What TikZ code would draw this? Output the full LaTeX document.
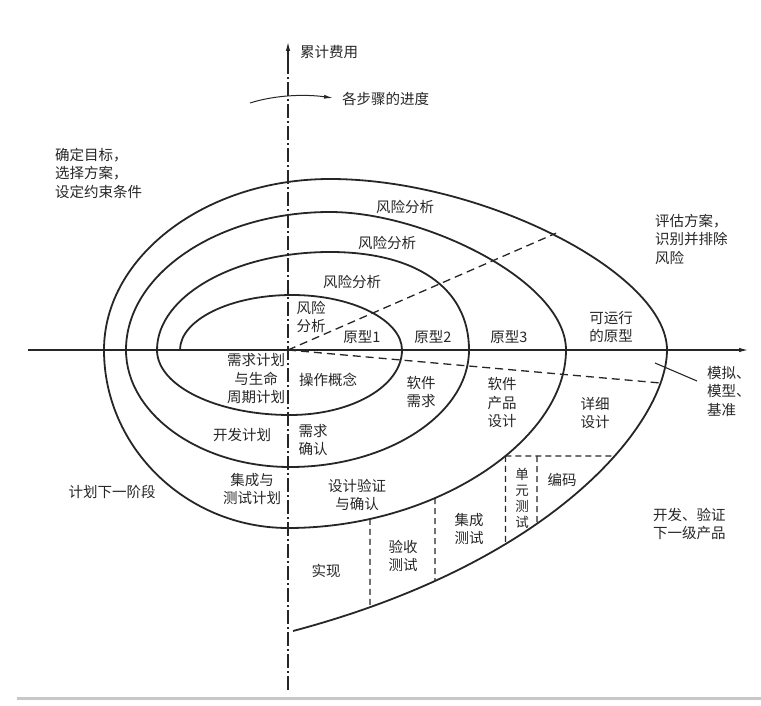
\documentclass[tikz,border=0pt]{standalone}
\usepackage{fontspec}
\newfontfamily\cjk{Noto Sans CJK SC}
\usetikzlibrary{arrows.meta,intersections}
\begin{document}
\begin{tikzpicture}[x=1pt,y=-1pt,
  lbl/.style={font=\cjk\fontsize{14.5}{18.5}\selectfont, text=black!85, inner sep=0pt, align=center},
  lbll/.style={lbl, align=left},
  spiral/.style={line width=1.8pt, black!85},
  axis/.style={line width=1.1pt, black!85},
  dashline/.style={line width=1.3pt, black!85, dash pattern=on 8pt off 5pt},
  sdash/.style={line width=1.2pt, black!85, dash pattern=on 6pt off 4pt},
  tip/.style={-{Latex[length=9pt,width=4.5pt]}}
]
\useasboundingbox (0,0) rectangle (761,706);
\fill[black!22] (17,696.5) rectangle (761,699.5);

% key points of the spiral
\coordinate (O) at (288,350);
\coordinate (L1) at (180,350); \coordinate (T1) at (292,295);
\coordinate (R1) at (402,350); \coordinate (B1) at (290,415);
\coordinate (L2) at (157,350); \coordinate (T2) at (330,252);
\coordinate (R2) at (469,350); \coordinate (B2) at (290,467);
\coordinate (L3) at (126,350); \coordinate (T3) at (330,212);
\coordinate (R3) at (566,350); \coordinate (B3) at (288,528);
\coordinate (L4) at (104,350); \coordinate (T4) at (330,179);
\coordinate (R4) at (667,350); \coordinate (E)  at (293,631);

% axes
\draw[axis,tip] (28,350) -- (748,350);
\draw[axis, dash pattern=on 14pt off 3pt on 2pt off 3pt] (288,690) -- (288,60);
\draw[axis,tip] (288,62) -- (288,42);
\draw[line width=1pt, black!85, -{Latex[length=9pt,width=4pt]}] (250,103) .. controls (275,95) and (305,94) .. (333,98);

% spiral
\draw[spiral] (L1) .. controls (180,320) and (230,295) .. (T1)
 .. controls (352,295) and (402,320) .. (R1)
 .. controls (402,386) and (352,415) .. (B1)
 .. controls (217,415) and (157,386) .. (L2)
 .. controls (157,296) and (235,252) .. (T2)
 .. controls (413,252) and (469,286) .. (R2)
 .. controls (469,414) and (388,467) .. (B2)
 .. controls (200,467) and (126,414) .. (L3)
 .. controls (126,274) and (218,212) .. (T3)
 .. controls (424,212) and (566,281) .. (R3)
 .. controls (566,440) and (436,528) .. (B3)
 .. controls (187,528) and (104,448) .. (L4)
 .. controls (104,256) and (206,179) .. (T4)
 .. controls (482,179) and (667,273) .. (R4)
 .. controls (667,420) and (560,560) .. (E);

\path[name path=s3b] (R3) .. controls (566,440) and (436,528) .. (B3);
\path[name path=s4b] (R4) .. controls (667,420) and (560,560) .. (E);

% radial dashed lines
\coordinate (D1) at (556,233.2);
\coordinate (D2) at (660.5,383);
\draw[dashline] (O) -- (D1);
\draw[dashline] (O) -- (D2);

% pointer
\coordinate (S1) at (655,363);
\coordinate (S2) at (697,381);
\draw[line width=1.1pt, black!85] (S1) -- (S2);

% lower dashed partitions
\path[name path=h1] (470,456) -- (720,456);
\path[name intersections={of=s3b and h1, by=P1}];
\path[name intersections={of=s4b and h1, by=P2}];
\draw[sdash] (P1) -- (P2);
\path[name path=v1] (P1) -- ++(0,150);
\path[name intersections={of=s4b and v1, by=Q1}];
\draw[sdash] (P1) -- (Q1);
\coordinate (P3) at (537,456);
\path[name path=v2] (P3) -- (537,620);
\path[name intersections={of=s4b and v2, by=Q2}];
\draw[sdash] (P3) -- (Q2);
\path[name path=v3] (435,420) -- (435,660);
\path[name intersections={of=s3b and v3, by=P4}];
\path[name intersections={of=s4b and v3, by=Q4}];
\draw[sdash] (P4) -- (Q4);
\path[name path=v4] (370,420) -- (370,680);
\path[name intersections={of=s3b and v4, by=P5}];
\path[name intersections={of=s4b and v4, by=Q5}];
\draw[sdash] (P5) -- (Q5);

% labels
\node[lbl,anchor=west] (cost) at (300,52) {累计费用};
\node[lbl,anchor=west] (prog) at (342,99) {各步骤的进度};
\node[lbll,anchor=west] (q1) at (55,173) {确定目标，\\选择方案，\\设定约束条件};
\node[lbll,anchor=west] (q2) at (655,239) {评估方案，\\识别并排除\\风险};
\node[lbl] (r4) at (405,207) {风险分析};
\node[lbl] (r3) at (387,243) {风险分析};
\node[lbl] (r2) at (352,282) {风险分析};
\node[lbll] (r1) at (311,317) {风险\\分析};
\node[lbl] (p1) at (362,337) {原型1};
\node[lbl] (p2) at (433,337) {原型2};
\node[lbl] (p3) at (509,337) {原型3};
\node[lbl] (p4) at (611,327) {可运行\\的原型};
\node[lbl] (req) at (256,379) {需求计划\\与生命\\周期计划};
\node[lbl] (ops) at (328,380) {操作概念};
\node[lbl] (sreq) at (421,392) {软件\\需求};
\node[lbl] (spd) at (502,403) {软件\\产品\\设计};
\node[lbl] (dd) at (595,413) {详细\\设计};
\node[lbll,anchor=west] (sim) at (707,391) {模拟、\\模型、\\基准};
\node[lbl] (dev) at (242,435) {开发计划};
\node[lbl] (rv) at (313,440) {需求\\确认};
\node[lbl] (itp) at (252,489) {集成与\\测试计划};
\node[lbl] (dvv) at (357,495) {设计验证\\与确认};
\node[lbl] (impl) at (326,571) {实现};
\node[lbl] (acc) at (403,556) {验收\\测试};
\node[lbl] (it) at (469,529) {集成\\测试};
\node[lbl,font=\cjk\fontsize{13.5}{16}\selectfont] (ut) at (522,498) {单\\元\\测\\试};
\node[lbl] (code) at (562,480) {编码};
\node[lbl] (next) at (112,492) {计划下一阶段};
\node[lbll,anchor=west] (devn) at (653,524) {开发、验证\\下一级产品};
\end{tikzpicture}
\end{document}
